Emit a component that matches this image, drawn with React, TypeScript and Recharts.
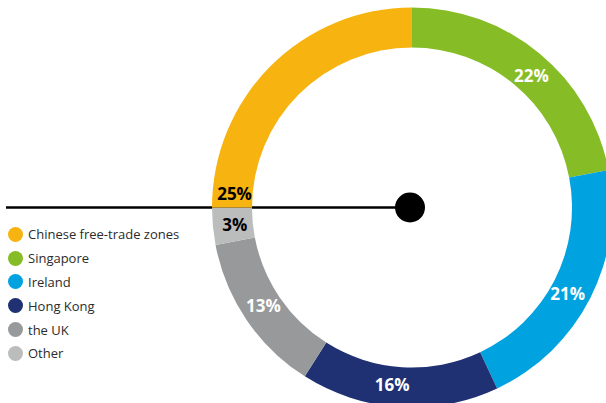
import React from "react";
import { PieChart, Pie, Cell, Customized } from "recharts";

const sliceNames = ["Singapore", "Ireland", "Hong Kong", "the UK", "Other", "Chinese free-trade zones"];
const sliceValues = [22, 21, 16, 13, 3, 25];
const sliceColors = ["#86BC25", "#00A3E0", "#1F3173", "#97999B", "#BBBCBC", "#F7B30F"];
const labelColors = ["#FFFFFF", "#FFFFFF", "#FFFFFF", "#FFFFFF", "#000000", "#000000"];
const legendOrder = ["Chinese free-trade zones", "Singapore", "Ireland", "Hong Kong", "the UK", "Other"];

const data = sliceNames.map((name, i) => ({ name, value: sliceValues[i] }));

const W = 606;
const H = 403;
const CX = 412;
const CY = 207.5;
const R_IN = 160;
const R_OUT = 200;
const DOT_X = 410;
const FONT = "'Open Sans', 'Noto Sans', sans-serif";
const RADIAN = Math.PI / 180;
// small placement nudges for the percentage labels (degrees)
const LABEL_SHIFT = [-2.5, -2, -2.8, -0.8, 0, 0];
// the first-zone label sits near the far (bottom) end of its slice
const FIRST_ZONE_LABEL_ANGLE = 175.5;

const renderLabel = (props: any) => {
  const { cx, cy, midAngle, innerRadius, outerRadius, index } = props;
  const r = (innerRadius + outerRadius) / 2 - 2;
  const a =
    sliceNames[index] === "Chinese free-trade zones" ? FIRST_ZONE_LABEL_ANGLE : midAngle + LABEL_SHIFT[index];
  const x = cx + r * Math.cos(-a * RADIAN);
  const y = cy + r * Math.sin(-a * RADIAN);
  return (
    <text
      x={x}
      y={y}
      fill={labelColors[index]}
      textAnchor="middle"
      dominantBaseline="central"
      fontFamily={FONT}
      fontWeight={700}
      fontSize={17}
    >
      {sliceValues[index]}%
    </text>
  );
};

const Pointer = () => (
  <g>
    <line x1={6} y1={CY} x2={DOT_X} y2={CY} stroke="#000" strokeWidth={2.5} />
    <circle cx={DOT_X} cy={CY} r={15} fill="#000" />
  </g>
);

export default function App() {
  return (
    <div style={{ position: "absolute", left: 0, top: 0, width: W, height: H, background: "#fff" }}>
      <PieChart width={W} height={H} margin={{ top: 0, right: 0, bottom: 0, left: 0 }}>
        <Pie
          data={data}
          dataKey="value"
          nameKey="name"
          cx={CX}
          cy={CY}
          innerRadius={R_IN}
          outerRadius={R_OUT}
          startAngle={90}
          endAngle={-270}
          stroke="none"
          label={renderLabel}
          labelLine={false}
          isAnimationActive={false}
        >
          {data.map((d, i) => (
            <Cell key={d.name} fill={sliceColors[i]} />
          ))}
        </Pie>
        <Customized component={Pointer} />
      </PieChart>
      <div style={{ position: "absolute", left: 8, top: 222.5, fontFamily: FONT, fontSize: 13, color: "#2b2b2b" }}>
        {legendOrder.map((name) => {
          const i = sliceNames.indexOf(name);
          return (
            <div key={name} style={{ display: "flex", alignItems: "center", height: 23.8 }}>
              <span
                style={{
                  display: "inline-block",
                  width: 15,
                  height: 15,
                  borderRadius: "50%",
                  background: sliceColors[i],
                  marginRight: 5,
                }}
              />
              <span>{name}</span>
            </div>
          );
        })}
      </div>
    </div>
  );
}
